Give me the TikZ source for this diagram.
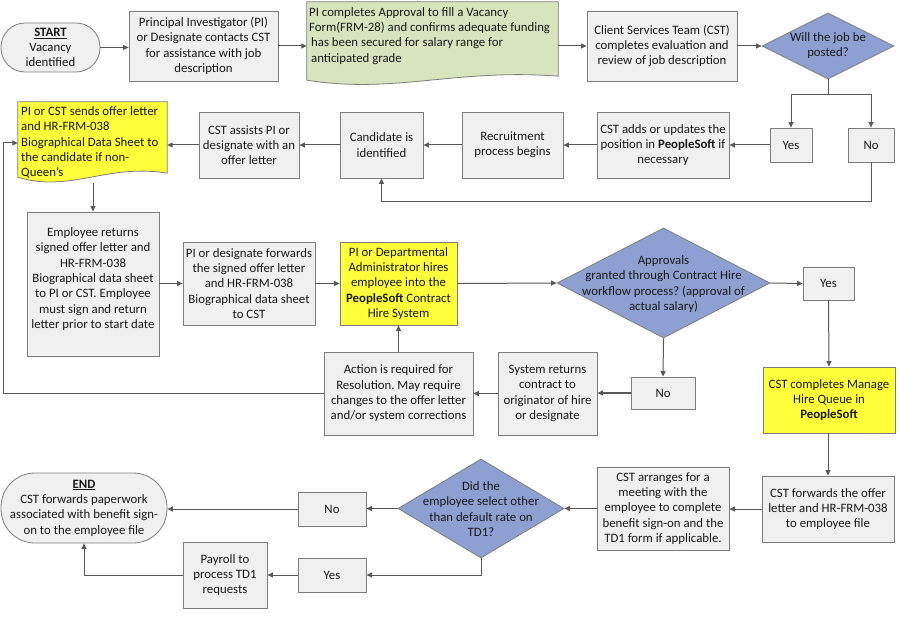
\documentclass[tikz,border=0pt]{standalone}
\usepackage{fontspec}
\setmainfont{Carlito}
\usetikzlibrary{shapes.geometric,arrows.meta,calc}
\definecolor{boxfill}{RGB}{240,240,240}
\definecolor{boxline}{RGB}{125,125,125}
\definecolor{arrowc}{RGB}{89,89,89}
\definecolor{yel}{RGB}{255,255,60}
\definecolor{grn}{RGB}{215,228,189}
\definecolor{blu}{RGB}{142,160,210}
\definecolor{txt}{RGB}{25,25,25}
\frenchspacing
\begin{document}
\begin{tikzpicture}[x=1pt,y=-1pt, font=\fontsize{12.8}{15.3}\selectfont,
  base/.style={draw=boxline, line width=0.8pt, align=center, inner sep=1pt, text=txt},
  pbox/.style={base, rectangle, fill=boxfill},
  ybox/.style={base, rectangle, fill=yel},
  term/.style={base, rectangle, rounded corners=#1, fill=boxfill},
  dia/.style={base, diamond, fill=blu, inner sep=0pt},
  dtext/.style={align=center, inner sep=0pt, text=txt},
  ghost/.style={rectangle, inner sep=0pt},
  docshape/.style={draw=boxline, line width=0.8pt},
  arr/.style={draw=arrowc, line width=1pt, -{Triangle[length=5.5pt,width=5pt]}},
  ln/.style={draw=arrowc, line width=1pt}
]
\useasboundingbox (0,0) rectangle (900,620);
\fill[white] (0,0) rectangle (900,620);

% ---- row 1
\node[term=24, minimum width=99, minimum height=49] (start) at (50.5,47.5)
  {\underline{\textbf{START}}\\Vacancy\\identified};
\node[pbox, minimum width=149, minimum height=70] (pi) at (203.5,46)
  {Principal Investigator (PI)\\or Designate contacts CST\\for assistance with job\\description};
\node[ghost, minimum width=251, minimum height=78] (doc1) at (432.5,41) {};
\draw[docshape, fill=grn] (doc1.south west) -- (doc1.north west) -- (doc1.north east)
  -- ($(doc1.south east)+(0,-4)$)
  .. controls ($(doc1.south west)+(150,-12)$) and ($(doc1.south west)+(88,14)$) .. (doc1.south west) -- cycle;
\node[dtext, anchor=west, align=left] (doc1t) at (309,36)
  {PI completes Approval to fill a Vacancy\\Form(FRM-28) and confirms adequate funding\\\hspace*{2pt}has been secured for salary range for\\\hspace*{2pt}anticipated grade};
\node[pbox, minimum width=150, minimum height=70] (cst) at (662,46)
  {Client Services Team (CST)\\completes evaluation and\\review of job description};
\node[dia, minimum width=132, minimum height=66] (d1) at (828,46) {};
\node[dtext] (d1t) at (828,45.5) {Will the job be\\posted?};

% ---- row 2
\node[pbox, minimum width=42, minimum height=34] (yes1) at (791,145) {Yes};
\node[pbox, minimum width=46, minimum height=34] (no1) at (871,145) {No};
\node[pbox, minimum width=132, minimum height=66] (adds) at (663,145)
  {CST adds or updates the\\position in \textbf{PeopleSoft} if\\necessary};
\node[pbox, minimum width=101, minimum height=66] (rec) at (512.5,145)
  {Recruitment\\process begins};
\node[pbox, minimum width=83, minimum height=66] (cand) at (381.5,145)
  {Candidate is\\identified};
\node[pbox, minimum width=100, minimum height=66] (assist) at (249,145)
  {CST assists PI or\\designate with an\\offer letter};
\node[ghost, minimum width=149, minimum height=75] (doc2) at (92.5,139.5) {};
\draw[docshape, fill=yel] (doc2.south west) -- (doc2.north west) -- (doc2.north east)
  -- ($(doc2.south east)+(0,-4)$)
  .. controls ($(doc2.south west)+(89,-14)$) and ($(doc2.south west)+(52,16)$) .. (doc2.south west) -- cycle;
\node[dtext, anchor=west, align=left] (doc2t) at (21,142.5)
  {PI or CST sends offer letter\\and HR-FRM-038\\Biographical Data Sheet to\\the candidate if non-\\Queen’s};

% ---- row 3
\node[pbox, minimum width=132, minimum height=144] (emp) at (93,284)
  {Employee returns\\signed offer letter and\\HR-FRM-038\\Biographical data sheet\\to PI or CST. Employee\\must sign and return\\letter prior to start date\\[-3.3pt]\mbox{}};
\node[pbox, minimum width=132, minimum height=83] (fwd) at (249,283.5)
  {PI or designate forwards\\the signed offer letter\\and HR-FRM-038\\Biographical data sheet\\to CST};
\node[ybox, minimum width=117, minimum height=83] (hire) at (398.5,283.5)
  {PI or Departmental\\Administrator hires\\employee into the\\\textbf{PeopleSoft} Contract\\Hire System};
\node[dia, minimum width=213, minimum height=110] (d2) at (663.5,283) {};
\node[dtext] (d2t) at (663.5,284)
  {Approvals\\granted through Contract Hire\\workflow process? (approval of\\actual salary)};
\node[pbox, minimum width=51, minimum height=33] (yes2) at (828.5,283.5) {Yes};

% ---- row 4
\node[ybox, minimum width=132, minimum height=66] (manage) at (829,400)
  {CST completes Manage\\Hire Queue in\\\textbf{PeopleSoft}};
\node[pbox, minimum width=64, minimum height=32] (no2) at (663,393) {No};
\node[pbox, minimum width=99, minimum height=83] (sysr) at (547.5,393.5)
  {System returns\\contract to\\originator of hire\\or designate};
\node[pbox, minimum width=149, minimum height=83] (action) at (398.5,393.5)
  {Action is required for\\Resolution. May require\\changes to the offer letter\\and/or system corrections};

% ---- row 5
\node[pbox, minimum width=132, minimum height=66] (fwdfile) at (828,509)
  {CST forwards the offer\\letter and HR-FRM-038\\to employee file};
\node[pbox, minimum width=132, minimum height=83] (arrange) at (663,508.5)
  {CST arranges for a\\meeting with the\\employee to complete\\benefit sign-on and the\\TD1 form if applicable.};
\node[dia, minimum width=166, minimum height=99] (d3) at (481,508.5) {};
\node[dtext] (d3t) at (481,509)
  {Did the\\employee select other\\than default rate on\\TD1?};
\node[pbox, minimum width=68, minimum height=34] (no3) at (332,509) {No};
\node[pbox, minimum width=68, minimum height=34] (yes3) at (332,575) {Yes};
\node[pbox, minimum width=84, minimum height=66] (payroll) at (225,575)
  {Payroll to\\process TD1\\requests};
\node[term=34, minimum width=166, minimum height=70] (endn) at (84,508)
  {\underline{\textbf{END}}\\CST forwards paperwork\\associated with benefit sign-\\on to the employee file};

% ---- connectors
\draw[arr] (start.east) -- (start.east -| pi.west);
\draw[arr] (pi.east) -- (pi.east -| doc1.west);
\draw[arr] (doc1.east |- cst.west) -- (cst.west);
\draw[arr] (cst.east) -- (d1.west);
\coordinate (j1) at (828,95);
\draw[ln] (d1.south) -- (j1);
\draw[arr] (j1) -| (yes1.north);
\draw[arr] (j1) -| (no1.north);
\draw[arr] (yes1.west) -- (adds.east);
\draw[arr] (adds.west) -- (rec.east);
\draw[arr] (rec.west) -- (cand.east);
\draw[arr] (cand.west) -- (assist.east);
\draw[arr] (assist.west) -- (assist.west -| doc2.east);
\coordinate (nb) at (871,202);
\draw[arr] (no1.south) -- (nb) -| (cand.south);
\coordinate (ydb) at (93,183);
\draw[arr] (ydb) -- (emp.north);
\draw[arr] (emp.east |- fwd.west) -- (fwd.west);
\draw[arr] (fwd.east) -- (hire.west);
\draw[arr] (hire.east) -- (d2.west);
\draw[arr] (d2.east) -- (yes2.west);
\draw[arr] (yes2.south) -- (manage.north);
\draw[arr] (d2.south) -- (no2.north);
\draw[arr] (no2.west) -- (no2.west -| sysr.east);
\draw[arr] (sysr.west) -- (action.east);
\draw[arr] (action.north) -- (hire.south);
\coordinate (loopA) at (3,143);
\draw[arr] (action.west) -| (loopA) -- (loopA -| doc2.west);
\draw[arr] (manage.south -| fwdfile.north) -- (fwdfile.north);
\draw[arr] (fwdfile.west) -- (fwdfile.west -| arrange.east);
\draw[arr] (arrange.west) -- (d3.east);
\draw[arr] (d3.west) -- (d3.west -| no3.east);
\draw[arr] (no3.west) -- (no3.west -| endn.east);
\draw[arr] (d3.south) |- (yes3.east);
\draw[arr] (yes3.west) -- (payroll.east);
\draw[arr] (payroll.west) -| (endn.south);
\end{tikzpicture}
\end{document}
